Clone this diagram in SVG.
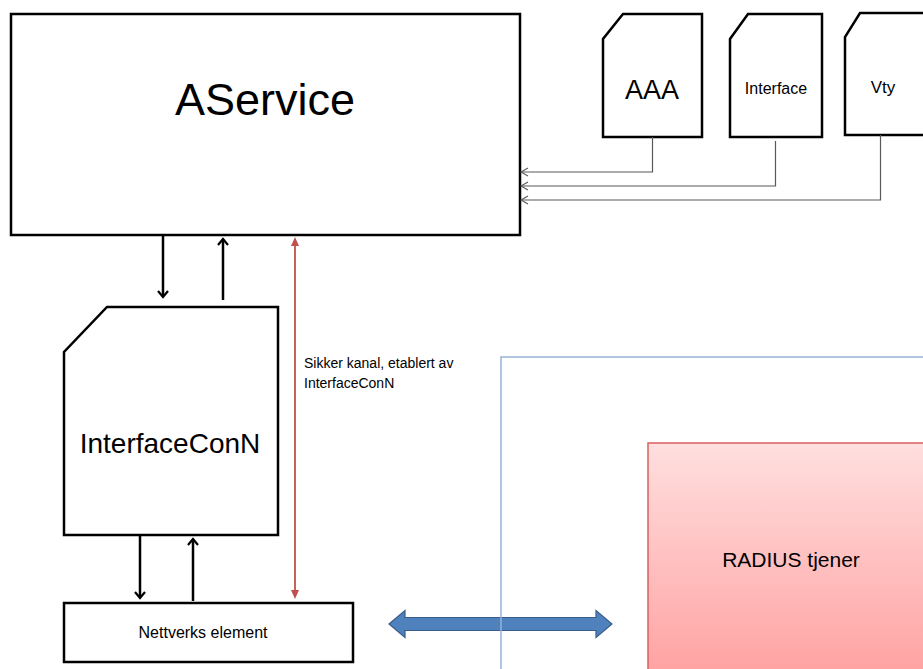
<svg xmlns="http://www.w3.org/2000/svg" width="923" height="669" viewBox="0 0 923 669">
  <style>
    .box { fill: #ffffff; stroke: #000000; stroke-width: 2.5; stroke-linejoin: miter; }
    .lbl { font-family: "Liberation Sans", Arial, sans-serif; fill: #000000; text-anchor: middle; }
    .flow { stroke: #000000; stroke-width: 2.5; fill: none; }
    .feed { stroke: #595959; stroke-width: 1.2; fill: none; }
    .secure { stroke: #c0504d; stroke-width: 1.8; fill: none; }
    .note { font-family: "Liberation Sans", Arial, sans-serif; font-size: 14px; fill: #000000; }
  </style>
  <defs>
    <marker id="headBlack" markerUnits="userSpaceOnUse" viewBox="-9 -7 11 14" refX="0" refY="0" markerWidth="11" markerHeight="14" orient="auto">
      <path d="M-6,-5 L0,0 L-6,5" fill="none" stroke="#000000" stroke-width="2.2"/>
    </marker>
    <marker id="headGray" markerUnits="userSpaceOnUse" viewBox="-9 -6 11 12" refX="0" refY="0" markerWidth="11" markerHeight="12" orient="auto">
      <path d="M-7,-4 L0,0 L-7,4" fill="none" stroke="#595959" stroke-width="1.1"/>
    </marker>
    <marker id="headRed" markerUnits="userSpaceOnUse" viewBox="-10 -5 11 10" refX="-2" refY="0" markerWidth="11" markerHeight="10" orient="auto-start-reverse">
      <path d="M-9,-4 L0,0 L-9,4 Z" fill="#c0504d" stroke="none"/>
    </marker>
    <linearGradient id="radiusFill" x1="0" y1="0" x2="0" y2="1">
      <stop offset="0" stop-color="#ffdfdf"/>
      <stop offset="1" stop-color="#ffa2a2"/>
    </linearGradient>
  </defs>

  <rect width="923" height="669" fill="#ffffff"/>

  <!-- RADIUS server -->
  <g id="radius">
    <rect x="648" y="443" width="280" height="232" fill="url(#radiusFill)" stroke="#d9605e" stroke-width="1.5"/>
    <text class="lbl" x="791" y="567" font-size="21">RADIUS tjener</text>
  </g>

  <g id="aservice">
    <rect class="box" x="11" y="14" width="509" height="221"/>
    <text class="lbl" x="265" y="115" font-size="45">AService</text>
  </g>

  <g id="aaa">
    <path class="box" d="M623,14 L702,14 L702,137 L603,137 L603,39 Z"/>
    <text class="lbl" x="652" y="99" font-size="27">AAA</text>
  </g>

  <g id="interface">
    <path class="box" d="M748,14 L822,14 L822,137 L730,137 L730,39 Z"/>
    <text class="lbl" x="776" y="94" font-size="16">Interface</text>
  </g>

  <g id="vty">
    <path class="box" d="M860,13 L925,13 L925,135 L845,135 L845,37 Z"/>
    <text class="lbl" x="883" y="93" font-size="17">Vty</text>
  </g>

  <g id="interfaceconn">
    <path class="box" d="M107,307 L278,307 L278,535 L64,535 L64,352 Z"/>
    <text class="lbl" x="170" y="453" font-size="28">InterfaceConN</text>
  </g>

  <g id="nettverks">
    <rect class="box" x="64" y="603" width="289" height="59"/>
    <text class="lbl" x="203" y="638" font-size="16">Nettverks element</text>
  </g>

  <!-- connectors -->
  <g id="connectors">
    <path class="feed" d="M652.5,137 V172 H521" marker-end="url(#headGray)"/>
    <path class="feed" d="M775.5,141 V186 H521" marker-end="url(#headGray)"/>
    <path class="feed" d="M880.5,135 V200 H521" marker-end="url(#headGray)"/>

    <path class="flow" d="M163,236 V297" marker-end="url(#headBlack)"/>
    <path class="flow" d="M223,300 V239" marker-end="url(#headBlack)"/>
    <path class="flow" d="M140,536 V598" marker-end="url(#headBlack)"/>
    <path class="flow" d="M193,601 V539" marker-end="url(#headBlack)"/>

    <!-- secure channel, arrow both ways -->
    <path class="secure" d="M295,597 V239" marker-start="url(#headRed)" marker-end="url(#headRed)"/>

    <!-- link to the RADIUS server -->
    <path d="M389,624 L405,610.5 L405,617.5 L596,617.5 L596,610.5 L612,624 L596,637.5 L596,630.5 L405,630.5 L405,637.5 Z" fill="#4f81bd" stroke="#385d8a" stroke-width="1.2"/>
  </g>

  <g id="label">
    <text class="note" x="304" y="368">Sikker kanal, etablert av</text>
    <text class="note" x="304" y="388">InterfaceConN</text>
  </g>

  <!-- domain boundary, drawn over the link arrow -->
  <g id="domain">
    <rect x="501" y="357" width="430" height="320" fill="none" stroke="#95b3d7" stroke-width="1.5"/>
  </g>
</svg>
